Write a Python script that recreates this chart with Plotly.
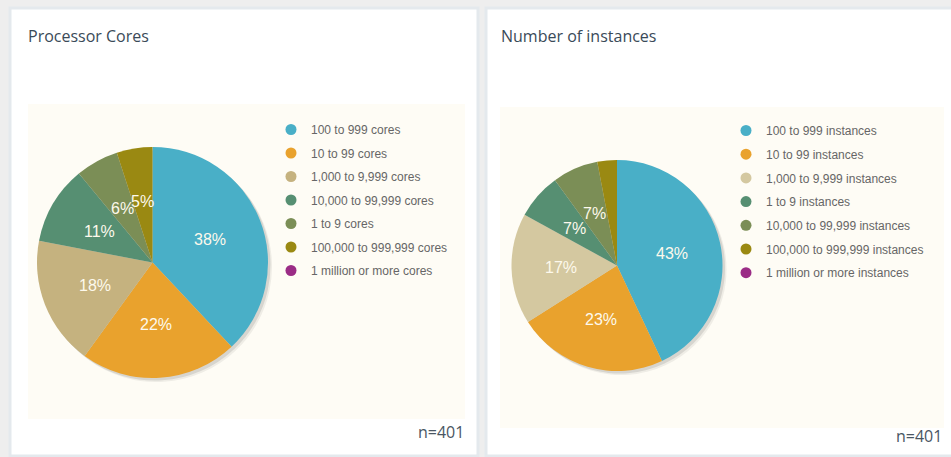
import math
import plotly.graph_objects as go

W, H = 951, 457

# ---------------- data ----------------
cores_labels = ["100 to 999 cores", "10 to 99 cores", "1,000 to 9,999 cores",
                "10,000 to 99,999 cores", "1 to 9 cores", "100,000 to 999,999 cores",
                "1 million or more cores"]
cores_values = [38, 22, 18, 11, 6, 5, 0]

inst_labels = ["100 to 999 instances", "10 to 99 instances", "1,000 to 9,999 instances",
               "1 to 9 instances", "10,000 to 99,999 instances", "100,000 to 999,999 instances",
               "1 million or more instances"]
inst_values = [43, 23, 17, 7, 7, 3, 0]

cores_colors = ["#49afc7", "#e9a22d", "#c5b27f", "#568f72", "#7b8e56", "#9a8912", "#9b2c86"]
inst_colors = ["#49afc7", "#e9a22d", "#d4c8a0", "#568f72", "#7b8e56", "#9a8912", "#9b2c86"]

titles = ["Processor Cores", "Number of instances"]
n_text = "n=401"

# ---------------- helpers (pixel -> paper) ----------------
def px(x):
    return x / W

def py(y):
    return 1 - y / H

fig = go.Figure()
shapes = []
annotations = []

# panels and cream plot areas
for (x0, x1) in [(10, 478), (486, 960)]:
    shapes.append(dict(type="rect", xref="paper", yref="paper",
                       x0=px(x0), x1=px(x1), y0=py(456), y1=py(8),
                       fillcolor="white", line=dict(color="#e4e9ed", width=3), layer="below"))
for (x0, x1, y0, y1) in [(28, 465, 104, 419), (500, 944, 107, 428)]:
    shapes.append(dict(type="rect", xref="paper", yref="paper",
                       x0=px(x0), x1=px(x1), y0=py(y1), y1=py(y0),
                       fillcolor="#fefcf5", line=dict(width=0), layer="below"))

pies = [
    dict(labels=cores_labels, values=cores_values, colors=cores_colors,
         cx=152.5, cy=262.5, r=115.5, legend="legend", minlabel=5),
    dict(labels=inst_labels, values=inst_values, colors=inst_colors,
         cx=617, cy=265.5, r=105.5, legend="legend2", minlabel=5),
]

for p in pies:
    cx, cy, r = p["cx"], p["cy"], p["r"]
    # soft shadow
    for off, alpha in [(4, 0.07), (2.5, 0.12)]:
        fig.add_trace(go.Pie(values=p["values"], labels=p["labels"], sort=False,
                             direction="clockwise", rotation=0,
                             marker=dict(colors=["rgba(40,40,40,%s)" % alpha] * len(p["values"]),
                                         line=dict(width=0)),
                             textinfo="none", hoverinfo="skip", showlegend=False,
                             domain=dict(x=[px(cx - r + off), px(cx + r + off)],
                                         y=[py(cy + r + off), py(cy - r + off)])))
    fig.add_trace(go.Pie(values=p["values"], labels=p["labels"], sort=False,
                         direction="clockwise", rotation=0,
                         marker=dict(colors=p["colors"], line=dict(width=0)),
                         textinfo="none", showlegend=False,
                         domain=dict(x=[px(cx - r), px(cx + r)],
                                     y=[py(cy + r), py(cy - r)])))
    # data labels along each slice's mid-angle
    total = sum(p["values"])
    acc = 0
    for v in p["values"]:
        mid = (acc + v / 2) / total * 2 * math.pi
        acc += v
        if v < p["minlabel"]:
            continue
        lr = 0.535 * r
        lx = cx + lr * math.sin(mid)
        ly = cy - lr * math.cos(mid)
        annotations.append(dict(x=px(lx), y=py(ly), xref="paper", yref="paper",
                                text="%d%%" % round(100 * v / total), showarrow=False,
                                xanchor="center", yanchor="middle",
                                font=dict(family="Liberation Sans, Arial", size=16,
                                          color="#fdf9ec")))
    # legend entries (circle markers)
    for lab, col in zip(p["labels"], p["colors"]):
        fig.add_trace(go.Scatter(x=[None], y=[None], mode="markers", name=lab,
                                 marker=dict(symbol="circle", size=11, color=col),
                                 legend=p["legend"], legendgroup=p["legend"] + lab,
                                 hoverinfo="skip"))

# titles and n labels
for t, x in zip(titles, [26, 499]):
    annotations.append(dict(x=px(x), y=py(36), xref="paper", yref="paper", text=t,
                            showarrow=False, xanchor="left", yanchor="middle",
                            font=dict(family="Open Sans", size=16, color="#3a4a58")))
for x, y in [(466, 432), (944, 436)]:
    annotations.append(dict(x=px(x), y=py(y), xref="paper", yref="paper", text=n_text,
                            showarrow=False, xanchor="right", yanchor="middle",
                            font=dict(family="Open Sans", size=16, color="#4a5663")))

legend_common = dict(font=dict(family="Liberation Sans, Arial", size=12, color="#666666"),
                     bgcolor="rgba(0,0,0,0)", borderwidth=0,
                     xanchor="left", yanchor="top", itemclick=False, itemdoubleclick=False)

fig.update_layout(
    width=W, height=H,
    margin=dict(l=0, r=0, t=0, b=0),
    paper_bgcolor="#eeeeee", plot_bgcolor="rgba(0,0,0,0)",
    xaxis=dict(visible=False), yaxis=dict(visible=False),
    shapes=shapes, annotations=annotations,
    legend=dict(x=px(271), y=py(115), tracegroupgap=4.5, **legend_common),
    legend2=dict(x=px(726), y=py(116), tracegroupgap=4.7, **legend_common),
    showlegend=True,
)

fig.write_html("out.html", config={"displayModeBar": False},
               post_script="document.body.style.margin='0';document.body.style.overflow='hidden';")
